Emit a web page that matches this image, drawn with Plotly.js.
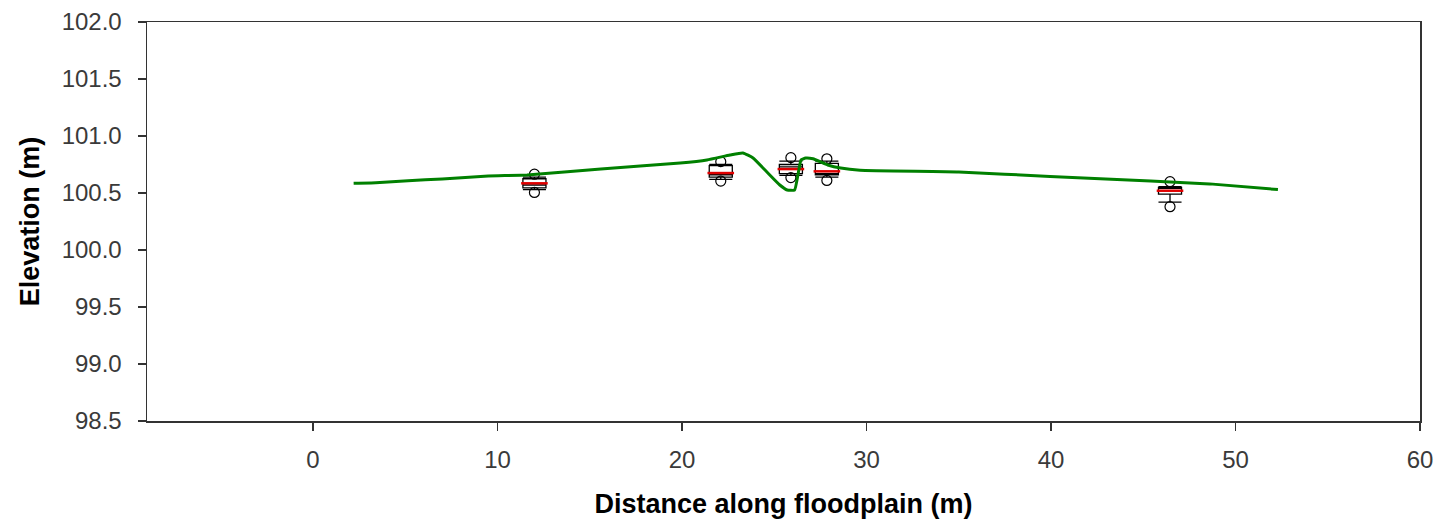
<!DOCTYPE html>
<html>
<head>
<meta charset="utf-8">
<script src="https://cdn.plot.ly/plotly-3.0.1.min.js"></script>
<style>
  html, body { margin: 0; padding: 0; background: #fff; }
  #chart { width: 1442px; height: 525px; }
</style>
</head>
<body>
<div id="chart"></div>
<script>
// Ground surface profile across the floodplain
const profileX = [2.2, 3.4, 5.15, 7.0, 9.5, 11.6, 15.6, 19.9, 21.35, 22.6, 23.3, 23.85,
  24.6, 25.3, 25.7, 26.1, 26.3, 26.45, 26.7, 27.1, 27.9, 28.6, 29.65, 35.0, 39.95,
  45.4, 48.6, 52.3];
const profileY = [100.585, 100.59, 100.608, 100.623, 100.649, 100.658, 100.71, 100.763,
  100.79, 100.833, 100.851, 100.807, 100.684, 100.57, 100.526, 100.526, 100.675,
  100.79, 100.807, 100.80, 100.746, 100.719, 100.70, 100.685, 100.645, 100.605,
  100.58, 100.53];

// Water-level measurements at each well: box statistics
const wellX = [12.0, 22.1, 25.9, 27.85, 46.45];
const q1 = [100.545, 100.64, 100.67, 100.66, 100.49];
const median = [100.57, 100.66, 100.73, 100.67, 100.54];
const q3 = [100.625, 100.74, 100.75, 100.76, 100.55];
const lowerFence = [100.53, 100.62, 100.655, 100.64, 100.42];
const upperFence = [100.64, 100.75, 100.78, 100.78, 100.555];
const meanLevel = [100.585, 100.675, 100.71, 100.69, 100.52];
const lowOutlier = [100.505, 100.605, 100.635, 100.61, 100.38];
const highOutlier = [100.665, 100.775, 100.81, 100.80, 100.60];

const yTicks = [98.5, 99.0, 99.5, 100.0, 100.5, 101.0, 101.5, 102.0];
const xTicks = [0, 10, 20, 30, 40, 50, 60];

const tickFont = { family: 'Liberation Sans, Arial, sans-serif', size: 24, color: '#3a3a3a' };
const titleFont = { family: 'Liberation Sans, Arial, sans-serif', size: 27, color: '#000' };

const traces = [
  {
    type: 'box',
    x: wellX,
    q1: q1,
    median: median,
    q3: q3,
    lowerfence: lowerFence,
    upperfence: upperFence,
    width: 1.25,
    whiskerwidth: 1,
    fillcolor: '#fff',
    line: { color: '#000', width: 1.3 },
    boxpoints: false,
    hoverinfo: 'none',
    showlegend: false
  },
  {
    type: 'scatter',
    mode: 'markers',
    x: wellX,
    y: meanLevel,
    marker: { symbol: 'line-ew-open', size: 19, color: '#e00000',
      line: { color: '#e00000', width: 2.5 } },
    hoverinfo: 'none',
    showlegend: false
  },
  {
    type: 'scatter',
    mode: 'markers',
    x: wellX.concat(wellX),
    y: lowOutlier.concat(highOutlier),
    marker: { symbol: 'circle-open', size: 10, color: '#000', line: { color: '#000', width: 1.2 } },
    hoverinfo: 'none',
    showlegend: false
  },
  {
    type: 'scatter',
    mode: 'lines',
    x: profileX,
    y: profileY,
    line: { color: '#008000', width: 3, shape: 'spline', smoothing: 0.4 },
    hoverinfo: 'none',
    showlegend: false
  }
];

const layout = {
  width: 1442,
  height: 525,
  paper_bgcolor: '#fff',
  plot_bgcolor: '#fff',
  margin: { l: 147, r: 22, t: 22, b: 104 },
  showlegend: false,
  xaxis: {
    range: [-9, 60],
    tickvals: xTicks,
    ticktext: xTicks.map(String),
    ticks: 'outside',
    ticklen: 8,
    tickwidth: 1.5,
    tickcolor: '#333',
    showline: true,
    linecolor: '#333',
    linewidth: 1.5,
    mirror: true,
    showgrid: false,
    zeroline: false,
    tickfont: tickFont,
    ticklabelstandoff: 9,
    title: { text: '<b>Distance along floodplain (m)</b>', font: titleFont, standoff: 22 }
  },
  yaxis: {
    range: [98.5, 102.0],
    tickvals: yTicks,
    ticktext: yTicks.map(v => v.toFixed(1)),
    ticks: 'outside',
    ticklen: 8,
    tickwidth: 1.5,
    tickcolor: '#333',
    showline: true,
    linecolor: '#333',
    linewidth: 1.5,
    mirror: true,
    showgrid: false,
    zeroline: false,
    tickfont: tickFont,
    ticklabelstandoff: 11,
    title: { text: '<b>Elevation (m)</b>', font: titleFont, standoff: 14 }
  }
};

Plotly.newPlot('chart', traces, layout, { staticPlot: true, displayModeBar: false });
</script>
</body>
</html>
